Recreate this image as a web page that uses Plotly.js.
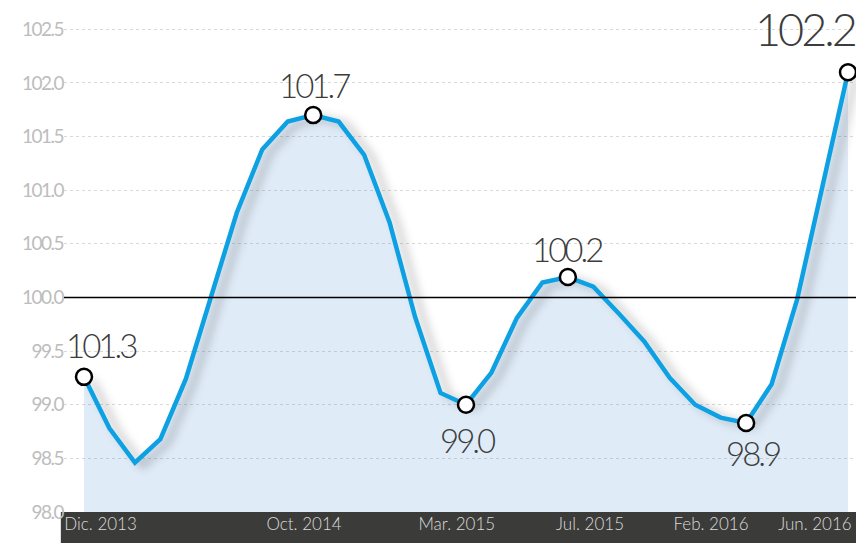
<!DOCTYPE html>
<html>
<head>
<meta charset="utf-8">
<script src="https://cdn.plot.ly/plotly-3.0.1.min.js"></script>
<style>
  html, body { margin: 0; padding: 0; background: #ffffff; }
  #chart { width: 856px; height: 543px; }
  .ytick text { letter-spacing: -1.5px; }
  .annotation-text { letter-spacing: -3px; }
</style>
</head>
<body>
<svg style="position:absolute;width:0;height:0" aria-hidden="true">
  <defs>
    <filter id="lineShadow" x="-10%" y="-10%" width="130%" height="130%">
      <feGaussianBlur in="SourceAlpha" stdDeviation="5"/>
      <feOffset dx="8" dy="3" result="blur"/>
      <feFlood flood-color="#000000" flood-opacity="0.28"/>
      <feComposite in2="blur" operator="in"/>
      <feMerge>
        <feMergeNode/>
        <feMergeNode in="SourceGraphic"/>
      </feMerge>
    </filter>
  </defs>
</svg>
<div id="chart"></div>
<script>
// ---- data (monthly index, Dec 2013 .. Jun 2016) ----
const monthIndex = [0,1,2,3,4,5,6,7,8,9,10,11,12,13,14,15,16,17,18,19,20,21,22,23,24,25,26,27,28,29,30];
const indexValues = [99.26, 98.78, 98.46, 98.68, 99.24, 100.0, 100.79, 101.38, 101.64, 101.70,
                     101.64, 101.33, 100.70, 99.82, 99.11, 99.00, 99.30, 99.81, 100.14, 100.19,
                     100.10, 99.85, 99.59, 99.25, 99.00, 98.88, 98.83, 99.19, 99.98, 101.04, 102.10];
const highlightIdx = [0, 9, 15, 19, 26, 30];
const highlightLabels = ['101.3', '101.7', '99.0', '100.2', '98.9', '102.2'];
const tickPositions = [0.65, 8.64, 14.64, 19.87, 24.62, 28.70];
const tickLabels = ['Dic. 2013', 'Oct. 2014', 'Mar. 2015', 'Jul. 2015', 'Feb. 2016', 'Jun. 2016'];
const yTicks = [98.0, 98.5, 99.0, 99.5, 100.0, 100.5, 101.0, 101.5, 102.0, 102.5];
const baseline = 100;

// label placement (pixel offsets relative to the marked point) & sizes
const labelShift = [[17, 32], [1, 30], [1, -35], [-1, 28], [7, -30], [-43, 43]];
const labelSize = [33, 33, 33, 33, 33, 45];

const fillTrace = {
  x: monthIndex, y: indexValues, type: 'scatter', mode: 'none',
  fill: 'tozeroy', fillcolor: 'rgba(30,110,200,0.14)', hoverinfo: 'skip'
};
const lineTrace = {
  x: monthIndex, y: indexValues, type: 'scatter', mode: 'lines',
  line: { color: '#0ea0e2', width: 4.5 }, hoverinfo: 'x+y'
};
const markerTrace = {
  x: highlightIdx.map(i => monthIndex[i]),
  y: highlightIdx.map(i => indexValues[i]),
  type: 'scatter', mode: 'markers',
  marker: { size: 16, color: '#ffffff', line: { color: '#000000', width: 2.5 } },
  hoverinfo: 'skip'
};

const annotations = highlightIdx.map((idx, k) => ({
  x: monthIndex[idx], y: indexValues[idx], xref: 'x', yref: 'y',
  text: highlightLabels[k], showarrow: false,
  xshift: labelShift[k][0], yshift: labelShift[k][1],
  font: { family: 'Lato', size: labelSize[k], color: '#3c3c3c', weight: 300 }
}));

const layout = {
  width: 856, height: 543,
  margin: { l: 64, r: 0, t: 0, b: 31, pad: 0 },
  paper_bgcolor: '#ffffff', plot_bgcolor: '#ffffff',
  showlegend: false,
  xaxis: {
    range: [-0.785, 30.314], tickmode: 'array', tickvals: tickPositions, ticktext: tickLabels,
    showgrid: false, zeroline: false, showline: false, ticks: '',
    tickfont: { family: 'Lato', size: 17, color: '#dcdcda', weight: 300 },
    fixedrange: true
  },
  yaxis: {
    range: [98.0, 102.773], tickmode: 'array', tickvals: yTicks,
    ticktext: yTicks.map(v => v.toFixed(1)),
    showgrid: true, gridcolor: '#d9d9d9', gridwidth: 1, griddash: '3px,3px',
    zeroline: false, showline: false, ticks: '',
    tickfont: { family: 'Lato', size: 19, color: '#bdbdbd' },
    fixedrange: true
  },
  shapes: [
    { type: 'rect', xref: 'paper', yref: 'paper', x0: -0.004, x1: 1, y0: -0.0606, y1: 0,
      fillcolor: '#3b3b39', line: { width: 0 }, layer: 'below' },
    { type: 'line', xref: 'paper', yref: 'y', x0: 0, x1: 1, y0: baseline, y1: baseline,
      line: { color: '#000000', width: 1.6 }, layer: 'above' }
  ],
  annotations: annotations
};

Plotly.newPlot('chart', [fillTrace, lineTrace, markerTrace], layout, { displayModeBar: false })
  .then(() => {
    const traces = document.querySelectorAll('.scatterlayer .trace');
    if (traces[1]) {
      const p = traces[1].querySelector('.js-line');
      if (p) p.setAttribute('filter', 'url(#lineShadow)');
    }
  });
</script>
</body>
</html>
